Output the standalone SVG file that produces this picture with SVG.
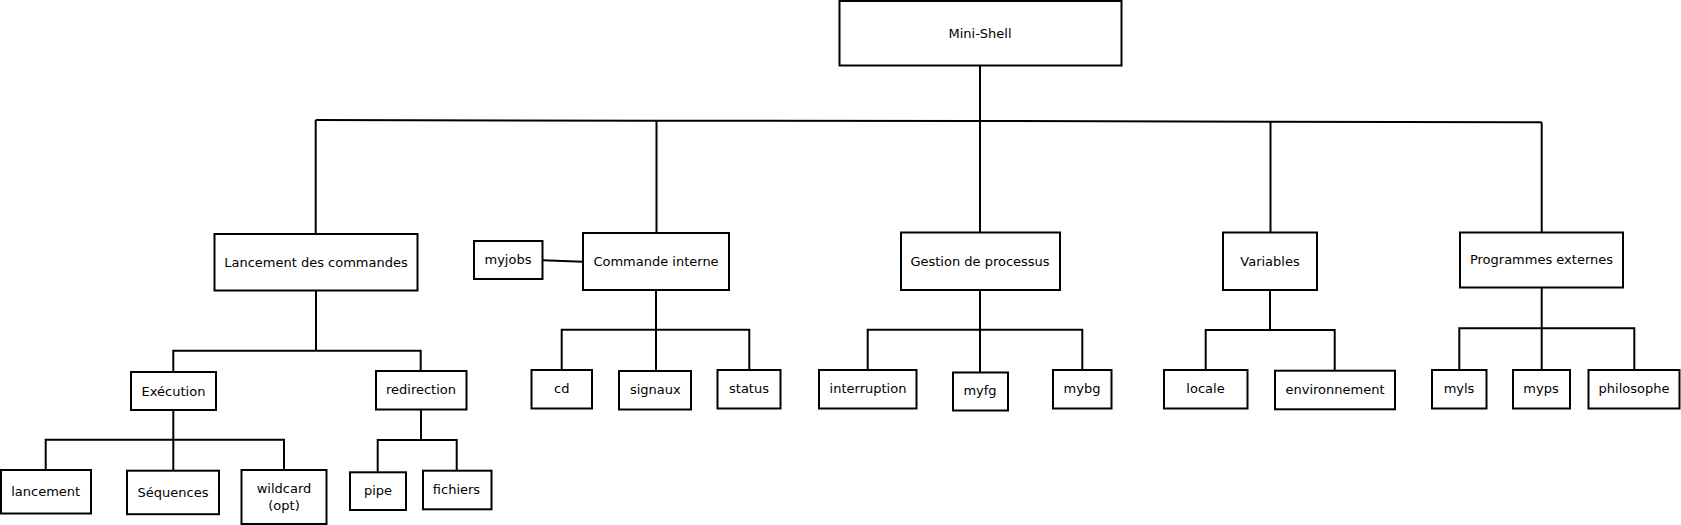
<svg xmlns="http://www.w3.org/2000/svg" width="1681" height="525" viewBox="0 0 1681 525">
<style>
.n rect{fill:#fff;stroke:#000;stroke-width:2}
.n text{font-family:"DejaVu Sans",sans-serif;font-size:13px;fill:#000;text-anchor:middle}
#connectors line,#connectors polyline{stroke:#000;stroke-width:2;fill:none}
</style>
<rect width="1681" height="525" fill="#fff"/>
<g id="connectors">
<line x1="980" y1="65.7" x2="980" y2="121"/>
<polyline points="315.7,120 656.5,120.7 980,121 1270.5,121.8 1541.7,122.3"/>
<line x1="315.7" y1="120" x2="315.7" y2="234"/>
<line x1="656.5" y1="120.7" x2="656.5" y2="233"/>
<line x1="980" y1="121" x2="980" y2="232.5"/>
<line x1="1270.5" y1="121.8" x2="1270.5" y2="232.5"/>
<line x1="1541.7" y1="122.3" x2="1541.7" y2="232.5"/>
<line x1="542.5" y1="260.3" x2="583" y2="261.7"/>
<line x1="316" y1="290.5" x2="316" y2="350.7"/>
<polyline points="173.3,372 173.3,350.7 420.7,350.7 420.7,371"/>
<line x1="173.3" y1="410" x2="173.3" y2="470.7"/>
<polyline points="45.7,470 45.7,439.7 284,439.7 284,470"/>
<line x1="421" y1="409.5" x2="421" y2="440"/>
<polyline points="377.7,472.3 377.7,440 456.7,440 456.7,470.7"/>
<line x1="656" y1="290" x2="656" y2="371"/>
<polyline points="561.7,370 561.7,329.7 749.3,329.7 749.3,370"/>
<line x1="980" y1="290" x2="980" y2="372.5"/>
<polyline points="867.7,370 867.7,329.7 1082.3,329.7 1082.3,370"/>
<line x1="1270" y1="290" x2="1270" y2="330"/>
<polyline points="1205.7,370 1205.7,330 1334.7,330 1334.7,370.7"/>
<line x1="1541.7" y1="287.5" x2="1541.7" y2="370"/>
<polyline points="1459.3,370 1459.3,328.3 1634.3,328.3 1634.3,370"/>
</g>
<g id="mini-shell" class="n"><rect x="839.5" y="1" width="282" height="64.5"/><text x="980" y="37.5">Mini-Shell</text></g>
<g id="lancement-des-commandes" class="n"><rect x="214.5" y="234" width="203" height="56.5"/><text x="316" y="266.5">Lancement des commandes</text></g>
<g id="commande-interne" class="n"><rect x="583" y="233" width="146" height="57"/><text x="656" y="265.5">Commande interne</text></g>
<g id="gestion-de-processus" class="n"><rect x="901" y="232.5" width="159" height="57.5"/><text x="980" y="265.5">Gestion de processus</text></g>
<g id="variables" class="n"><rect x="1223" y="232.5" width="94" height="57.5"/><text x="1270" y="265.5">Variables</text></g>
<g id="programmes-externes" class="n"><rect x="1460" y="232.5" width="163" height="55"/><text x="1541.5" y="264">Programmes externes</text></g>
<g id="myjobs" class="n"><rect x="474" y="241" width="68.5" height="38"/><text x="508" y="263.5">myjobs</text></g>
<g id="execution" class="n"><rect x="131" y="372" width="85" height="38"/><text x="173.5" y="395.5">Exécution</text></g>
<g id="redirection" class="n"><rect x="376" y="371" width="90.5" height="38.5"/><text x="421" y="394">redirection</text></g>
<g id="cd" class="n"><rect x="531.5" y="370" width="60.5" height="38.5"/><text x="561.7" y="393">cd</text></g>
<g id="signaux" class="n"><rect x="619" y="371" width="72" height="38.5"/><text x="655.3" y="394">signaux</text></g>
<g id="status" class="n"><rect x="717.5" y="370" width="63" height="38.5"/><text x="749" y="393">status</text></g>
<g id="interruption" class="n"><rect x="819" y="370" width="97.5" height="38.5"/><text x="868" y="393">interruption</text></g>
<g id="myfg" class="n"><rect x="953" y="372.5" width="55" height="38"/><text x="980" y="395">myfg</text></g>
<g id="mybg" class="n"><rect x="1053" y="370" width="58.5" height="38.5"/><text x="1082" y="393">mybg</text></g>
<g id="locale" class="n"><rect x="1164" y="370" width="83.5" height="38.5"/><text x="1205.5" y="393">locale</text></g>
<g id="environnement" class="n"><rect x="1275" y="370.7" width="120" height="38.6"/><text x="1335" y="393.8">environnement</text></g>
<g id="myls" class="n"><rect x="1432" y="370" width="54.5" height="38.5"/><text x="1459" y="393">myls</text></g>
<g id="myps" class="n"><rect x="1513" y="370" width="57" height="38.5"/><text x="1541" y="393">myps</text></g>
<g id="philosophe" class="n"><rect x="1588.5" y="370" width="91" height="38.5"/><text x="1634" y="393">philosophe</text></g>
<g id="lancement" class="n"><rect x="1" y="470" width="90" height="43.5"/><text x="45.7" y="496">lancement</text></g>
<g id="sequences" class="n"><rect x="127" y="470.7" width="92" height="43.5"/><text x="173" y="497">Séquences</text></g>
<g id="wildcard" class="n"><rect x="241.5" y="470" width="85" height="54"/><text x="284" y="492.8">wildcard</text><text x="284" y="509.5">(opt)</text></g>
<g id="pipe" class="n"><rect x="350" y="472.3" width="56" height="37.7"/><text x="378" y="495">pipe</text></g>
<g id="fichiers" class="n"><rect x="423" y="470.7" width="68.5" height="38.6"/><text x="456.5" y="493.8">fichiers</text></g>
</svg>
